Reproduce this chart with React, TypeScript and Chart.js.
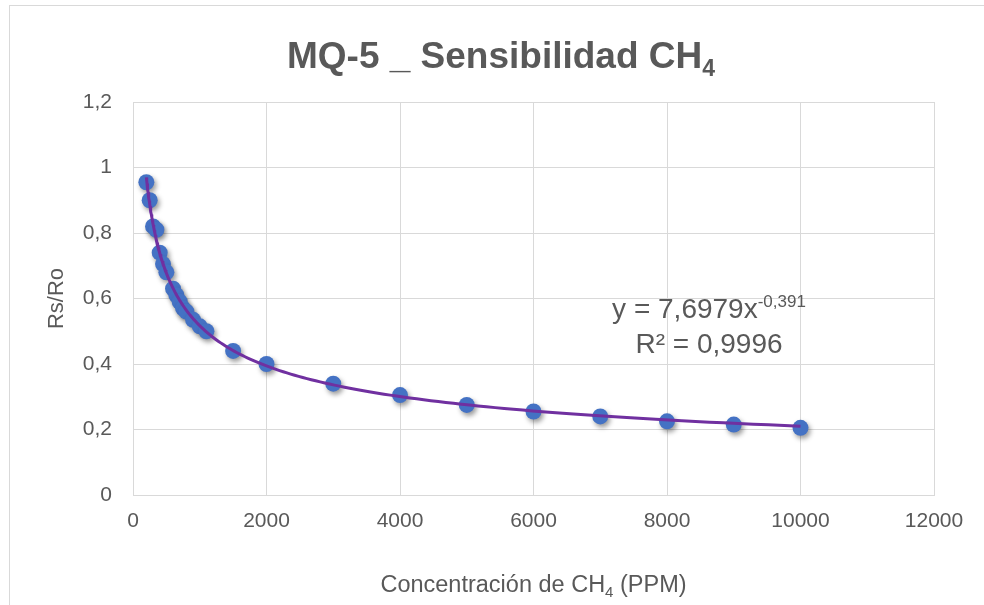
import { useEffect, useRef } from "react";
import { Chart, registerables } from "chart.js";

Chart.register(...registerables);

// Measured sensor response of the MQ-5 to methane
const concentrationPpm = [
  200, 250, 300, 350, 400, 450, 500, 600, 650, 700, 750, 800, 900, 1000, 1100,
  1500, 2000, 3000, 4000, 5000, 6000, 7000, 8000, 9000, 10000,
];
const rsRo = [
  0.955, 0.9, 0.82, 0.81, 0.74, 0.705, 0.68, 0.63, 0.61, 0.59, 0.57, 0.56,
  0.535, 0.515, 0.5, 0.44, 0.4, 0.34, 0.305, 0.275, 0.255, 0.24, 0.225, 0.215,
  0.205,
];

// Axis ranges
const xRange = [0, 12000];
const xStep = 2000;
const yRange = [0, 1.2];
const yStep = 0.2;

// Power trendline y = a * x^b
const fitCoefficient = 7.6979;
const fitExponent = -0.391;
const fitCoefficientText = "7,6979";
const fitExponentText = "-0,391";
const fitR2Text = "0,9996";

const FONT = "'Liberation Sans', Arial, sans-serif";
const TEXT = "#595959";
const GRID = "#D9D9D9";

function trendPoints() {
  const x0 = concentrationPpm[0];
  const x1 = concentrationPpm[concentrationPpm.length - 1];
  const n = 160;
  const pts: { x: number; y: number }[] = [];
  for (let i = 0; i <= n; i++) {
    const x = x0 * Math.pow(x1 / x0, i / n);
    pts.push({ x, y: fitCoefficient * Math.pow(x, fitExponent) });
  }
  return pts;
}

// Writes a run of text pieces, some lowered (subscript) or raised (superscript)
function drawRich(
  ctx: CanvasRenderingContext2D,
  parts: { t: string; mode?: "sub" | "sup" }[],
  cx: number,
  baseline: number,
  size: number,
  weight: string,
  color: string
) {
  const small = Math.round(size * 0.62);
  const fontFor = (m?: string) => `${weight} ${m ? small : size}px ${FONT}`;
  let total = 0;
  for (const p of parts) {
    ctx.font = fontFor(p.mode);
    total += ctx.measureText(p.t).width;
  }
  let x = cx - total / 2;
  ctx.fillStyle = color;
  ctx.textAlign = "left";
  ctx.textBaseline = "alphabetic";
  for (const p of parts) {
    ctx.font = fontFor(p.mode);
    const dy = p.mode === "sub" ? size * 0.22 : p.mode === "sup" ? -size * 0.38 : 0;
    ctx.fillText(p.t, x, baseline + dy);
    x += ctx.measureText(p.t).width;
  }
}

const decorations = {
  id: "decorations",
  beforeDraw(chart: Chart) {
    const ctx = chart.ctx;
    ctx.save();
    ctx.fillStyle = "#ffffff";
    ctx.fillRect(0, 0, chart.width, chart.height);
    ctx.strokeStyle = GRID;
    ctx.lineWidth = 1;
    ctx.strokeRect(9.5, 5.5, chart.width + 20, chart.height + 20);
    ctx.restore();
  },
  beforeDatasetDraw(chart: Chart, args: any) {
    if (args.index === 0) {
      const ctx = chart.ctx;
      ctx.save();
      ctx.shadowColor = "rgba(0,0,0,0.4)";
      ctx.shadowBlur = 5;
      ctx.shadowOffsetX = 2;
      ctx.shadowOffsetY = 3;
    }
  },
  afterDatasetDraw(chart: Chart, args: any) {
    if (args.index === 0) chart.ctx.restore();
  },
  afterDraw(chart: Chart) {
    const ctx = chart.ctx;
    const area = chart.chartArea;
    ctx.save();
    // Title
    drawRich(
      ctx,
      [{ t: "MQ-5 _ Sensibilidad CH" }, { t: "4", mode: "sub" }],
      501,
      68,
      37,
      "bold",
      TEXT
    );
    // X axis title
    drawRich(
      ctx,
      [{ t: "Concentración de CH" }, { t: "4", mode: "sub" }, { t: " (PPM)" }],
      (area.left + area.right) / 2,
      592,
      23.5,
      "normal",
      TEXT
    );
    // Y axis title
    ctx.translate(57, (area.top + area.bottom) / 2);
    ctx.rotate(-Math.PI / 2);
    ctx.font = `22px ${FONT}`;
    ctx.fillStyle = TEXT;
    ctx.textAlign = "center";
    ctx.textBaseline = "middle";
    ctx.fillText("Rs/Ro", 0, 0);
    ctx.restore();

    // Trendline equation
    ctx.save();
    drawRich(
      ctx,
      [
        { t: `y = ${fitCoefficientText}x` },
        { t: fitExponentText, mode: "sup" },
      ],
      709,
      318,
      28,
      "normal",
      TEXT
    );
    drawRich(ctx, [{ t: `R² = ${fitR2Text}` }], 709, 353, 28, "normal", TEXT);
    ctx.restore();
  },
};

export default function App() {
  const ref = useRef<HTMLCanvasElement>(null);

  useEffect(() => {
    if (!ref.current) return;
    const chart = new Chart(ref.current, {
      type: "scatter",
      data: {
        datasets: [
          {
            label: "Rs/Ro",
            data: concentrationPpm.map((x, i) => ({ x, y: rsRo[i] })),
            backgroundColor: "#4472C4",
            borderColor: "#4472C4",
            borderWidth: 0,
            pointRadius: 8,
            pointHoverRadius: 8,
            order: 2,
          },
          {
            label: "Potencial",
            type: "line",
            data: trendPoints(),
            borderColor: "#7030A0",
            borderWidth: 3,
            pointRadius: 0,
            fill: false,
            tension: 0,
            order: 1,
          },
        ],
      },
      options: {
        animation: false,
        responsive: false,
        events: [],
        layout: { padding: { left: 0, top: 102, right: 50, bottom: 0 } },
        plugins: {
          legend: { display: false },
          title: { display: false },
          tooltip: { enabled: false },
        },
        scales: {
          x: {
            type: "linear",
            min: xRange[0],
            max: xRange[1],
            ticks: {
              stepSize: xStep,
              color: TEXT,
              font: { family: FONT, size: 21 },
              padding: 14,
              maxRotation: 0,
              callback: (v: any) => String(v),
            },
            grid: { color: GRID, lineWidth: 1, drawTicks: false },
            border: { color: GRID },
            afterFit: (s: any) => {
              s.height = 110;
            },
          },
          y: {
            type: "linear",
            min: yRange[0],
            max: yRange[1],
            ticks: {
              stepSize: yStep,
              color: TEXT,
              font: { family: FONT, size: 21 },
              padding: 21,
              callback: (v: any) =>
                String(Math.round(Number(v) * 10) / 10).replace(".", ","),
            },
            grid: { color: GRID, lineWidth: 1, drawTicks: false },
            border: { color: GRID },
            afterFit: (s: any) => {
              s.width = 133;
            },
          },
        },
      },
      plugins: [decorations],
    });
    return () => chart.destroy();
  }, []);

  return (
    <div style={{ position: "absolute", left: 0, top: 0, width: 984, height: 605 }}>
      <canvas ref={ref} width={984} height={605} style={{ display: "block" }} />
    </div>
  );
}
